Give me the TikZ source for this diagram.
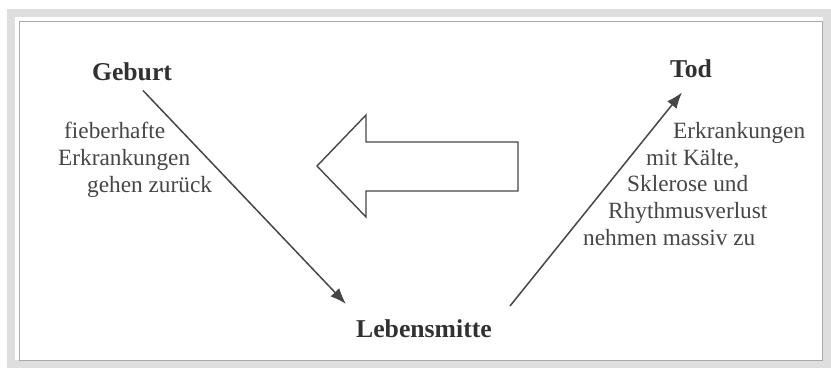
\documentclass[tikz,border=0pt]{standalone}
\usepackage{fontspec}
\setmainfont{Liberation Serif}
\usetikzlibrary{arrows.meta,positioning}
\definecolor{ink}{RGB}{70,70,70}
\definecolor{framegray}{RGB}{222,222,222}
\definecolor{framerule}{RGB}{170,170,170}

\begin{document}
\begin{tikzpicture}[
  x=1pt,y=-1pt,
  title/.style={font=\fontsize{25.7}{28}\selectfont\bfseries,text=ink!70!black,inner sep=0pt},
  note/.style={font=\fontsize{23.3}{26.7}\selectfont,text=ink,align=left,inner sep=0pt},
  arr/.style={-{Latex[length=16pt,width=12pt]},line width=1.5pt,ink},
  bigarrow/.style={draw=ink,line width=1.4pt,fill=white,line join=miter},
  ]
  \useasboundingbox (0,0) rectangle (831,370);
  % frame of the scan
  \draw[framegray,line width=8pt] (11,13) rectangle (827,364);
  \draw[framerule,line width=0.8pt] (19,21) rectangle (822,360);

  \node[title,anchor=base] (geburt) at (132,80) {Geburt};
  \node[title,anchor=base] (tod) at (691,77) {Tod};
  \node[title,anchor=base] (mitte) at (424,337) {Lebensmitte};

  \node[note,anchor=north west] (zurueck) at (58,122)
    {\hspace*{6pt}fieberhafte\\Erkrankungen\\\hspace*{29pt}gehen zurück};
  \node[note,anchor=north west] (zunahme) at (583,122)
    {\hspace*{90pt}Erkrankungen\\\hspace*{63pt}mit Kälte,\\\hspace*{44pt}Sklerose und\\\hspace*{25pt}Rhythmusverlust\\nehmen massiv zu};

  \draw[arr] ([shift={(11,10)}]geburt.south) -- ([shift={(-10,-15)}]mitte.north west);
  \draw[arr] ([shift={(18,-13)}]mitte.north east) -- ([shift={(-9,15)}]tod.south);

  % hollow arrow pointing back
  \draw[bigarrow] (317,166) -- (366,115) -- (366,142) -- (518,142)
    -- (518,191) -- (366,191) -- (366,217) -- cycle;
\end{tikzpicture}
\end{document}
